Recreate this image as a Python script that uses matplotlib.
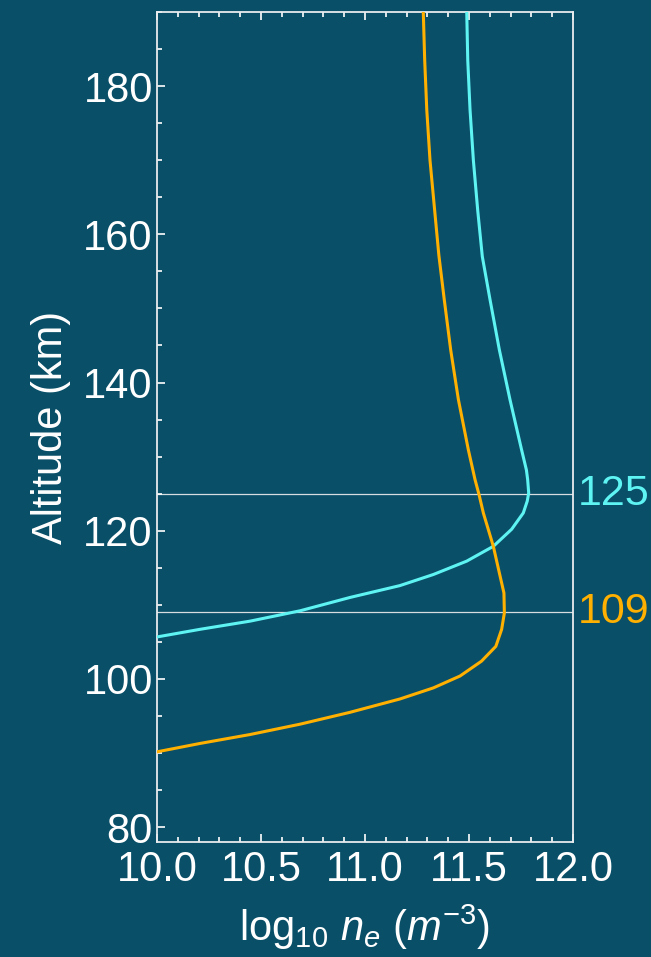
import numpy as np
import matplotlib.pyplot as plt
from matplotlib.ticker import MultipleLocator
import matplotlib.transforms as mtransforms

plt.rcParams['font.family'] = ['Liberation Sans', 'DejaVu Sans']
plt.rcParams['mathtext.fontset'] = 'custom'
plt.rcParams['mathtext.rm'] = 'Liberation Sans'
plt.rcParams['mathtext.it'] = 'Liberation Sans:italic'

# electron density profiles: altitude (km) vs log10 ne (m^-3)
alt_a = [190.2, 183.5, 176.8, 170.0, 163.2, 157.0, 151.2, 144.4, 137.7, 130.9,
         128.2, 126.9, 125.1, 124.0, 122.4, 120.2, 117.9, 115.9, 114.1, 112.6,
         111.0, 109.2, 107.8, 106.7, 105.7]
ne_a = [11.489, 11.494, 11.505, 11.521, 11.542, 11.564, 11.601, 11.646, 11.697,
        11.753, 11.776, 11.782, 11.787, 11.780, 11.761, 11.705, 11.617, 11.489,
        11.329, 11.168, 10.928, 10.688, 10.447, 10.207, 10.006]

alt_b = [190.2, 183.5, 176.8, 170.0, 163.2, 157.2, 151.2, 144.4, 137.7, 130.9,
         126.9, 124.9, 122.4, 117.9, 114.3, 111.6, 108.9, 106.7, 104.4, 102.4,
         100.4, 98.8, 97.3, 95.5, 93.9, 92.5, 91.3, 90.2]
ne_b = [11.280, 11.287, 11.297, 11.3125, 11.335, 11.355, 11.381, 11.412, 11.449,
        11.497, 11.529, 11.548, 11.569, 11.617, 11.646, 11.668, 11.670, 11.657,
        11.629, 11.560, 11.457, 11.329, 11.168, 10.928, 10.688, 10.447, 10.207,
        10.006]

peak_alts = [125, 109]
peak_labels = ['125', '109']

bg = '#094f68'
c_a = '#5ff4f4'
c_b = '#ffb000'
fg = 'white'

fig = plt.figure(figsize=(6.51, 9.57), dpi=100, facecolor=bg)
ax = fig.add_axes([157/651, 1 - 842/957, 416/651, 830/957])
ax.set_facecolor(bg)

for h in peak_alts:
    ax.axhline(h, color='#d8dde0', lw=0.9, zorder=1)

ax.plot(ne_a, alt_a, color=c_a, lw=2.2, zorder=3, solid_joinstyle='round')
ax.plot(ne_b, alt_b, color=c_b, lw=2.2, zorder=3, solid_joinstyle='round')

trans = mtransforms.blended_transform_factory(ax.transAxes, ax.transData)
for h, lab, c in zip(peak_alts, peak_labels, [c_a, c_b]):
    ax.text(1.012, h, lab, color=c, fontsize=31, va='center', ha='left',
            transform=trans, clip_on=False)

ax.set_xlim(10.0, 12.0)
ax.set_ylim(78, 190)
ax.xaxis.set_major_locator(MultipleLocator(0.5))
ax.xaxis.set_minor_locator(MultipleLocator(0.1))
ax.yaxis.set_major_locator(MultipleLocator(20))
ax.yaxis.set_minor_locator(MultipleLocator(5))
ax.xaxis.set_major_formatter(plt.FormatStrFormatter('%.1f'))

ax.tick_params(which='both', direction='in', colors=fg, top=True, right=False,
               labelsize=30, width=1.2)
ax.tick_params(which='major', length=6, pad=6)
ax.tick_params(which='minor', length=3.5)
ax.tick_params(axis='y', pad=3)

for s in ax.spines.values():
    s.set_color('#e8ecee')
    s.set_linewidth(1.3)

ax.set_xlabel(r'log$_{10}$ $n_e$ ($m^{-3}$)', color=fg, fontsize=30, labelpad=9)
ax.set_ylabel('Altitude (km)', color=fg, fontsize=30, labelpad=9)

fig.savefig('out.png', dpi=100, facecolor=bg)
